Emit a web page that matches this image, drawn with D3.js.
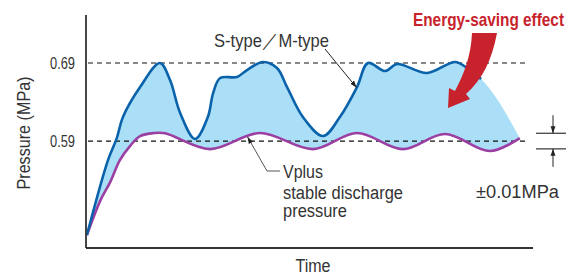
<!DOCTYPE html>
<html>
<head>
<meta charset="utf-8">
<script src="https://cdn.jsdelivr.net/npm/d3@7"></script>
<style>
  body { margin: 0; background: #fff; }
  svg { display: block; }
  text { font-family: "Liberation Sans", Arial, sans-serif; fill: #333; }
</style>
</head>
<body>
<div id="vis"></div>
<script>
// time is in arbitrary units (0..100), pressure in MPa
const yTicks = [0.59, 0.69]
const stypeTime     = [0.2, 5, 7, 8.4, 12.3, 16.8, 19.1, 21.4, 24.8, 27.7, 28.9, 30.5, 34.3, 36.6, 40.2, 43.4, 45.7, 49.3, 53.9, 57.7, 61.6, 64.1, 68, 70.7, 77.5, 83.9, 86.6, 89.8]
const stypePressure = [0.4695, 0.5656, 0.5938, 0.6208, 0.6592, 0.69, 0.6682, 0.6259, 0.5926, 0.6208, 0.6515, 0.6708, 0.6721, 0.681, 0.6913, 0.6836, 0.6592, 0.6208, 0.5964, 0.6208, 0.6592, 0.69, 0.6797, 0.6887, 0.6772, 0.6913, 0.6836, 0.6695]
// where the saving area keeps going after the blue line stops
const tailTime     = [93.6, 98.6]
const tailPressure = [0.6423, 0.5938]
const vplusTime     = [0.2, 3.2, 5.5, 7.7, 10, 12.3, 15.5, 18, 28.2, 39.5, 51.6, 61.6, 72, 81.6, 91.8, 98.6]
const vplusPressure = [0.4695, 0.5131, 0.5374, 0.5656, 0.5836, 0.5964, 0.6003, 0.6, 0.5797, 0.6003, 0.5797, 0.6003, 0.5797, 0.599, 0.5772, 0.5938]

const margin = {top: 15, right: 33, bottom: 28, left: 86}
const width = 566 - margin.left - margin.right
const height = 276 - margin.top - margin.bottom

const blue = "#0a62ab"
const lightBlue = "#aadff7"
const purple = "#9b40a2"
const red = "#c8232c"

// the original uses a condensed face, none is installed so squeeze a normal one
function squeeze(sel, w) {
    sel.attr("textLength", w).attr("lengthAdjust", "spacingAndGlyphs")
}

const svg = d3.select('#vis')
    .append('svg')
    .attr('width', width + margin.left + margin.right)
    .attr('height', height + margin.top + margin.bottom)

const defs = svg.append("defs")
defs.append("marker")
    .attr("id", "tip")
    .attr("viewBox", "0 0 10 10")
    .attr("refX", 10).attr("refY", 5)
    .attr("markerWidth", 7).attr("markerHeight", 7)
    .attr("markerUnits", "userSpaceOnUse")
    .attr("orient", "auto-start-reverse")
    .append("path")
    .attr("d", "M0,1.5 L10,5 L0,8.5 Z")
    .attr("fill", "#222")

const g = svg.append('g')
    .attr('transform', `translate(${margin.left},${margin.top})`)

const x = d3.scaleLinear().domain([0, 101.6]).range([0, width])
const y = d3.scaleLinear().domain([0.453, 0.7515]).range([height, 0])

const stype = stypeTime.map((t, i) => [t, stypePressure[i]])
const tail = tailTime.map((t, i) => [t, tailPressure[i]])
const vplus = vplusTime.map((t, i) => [t, vplusPressure[i]])

const line = d3.line()
    .x(d => x(d[0]))
    .y(d => y(d[1]))
    .curve(d3.curveCatmullRom.alpha(0.5))

// saving area: blue curve + tail on top, Vplus curve back underneath
const upperEdge = line(stype.concat(tail))
const lowerEdge = line(vplus.slice().reverse())
g.append("path")
    .attr("d", upperEdge + lowerEdge.replace(/^M/, "L") + "Z")
    .attr("fill", lightBlue)

// reference pressures
g.selectAll(".ref")
    .data(yTicks)
    .enter()
    .append("line")
    .attr("class", "ref")
    .attr("x1", 2)
    .attr("x2", x(100.5))
    .attr("y1", d => y(d))
    .attr("y2", d => y(d))
    .attr("stroke", "#111")
    .attr("stroke-width", 1.2)
    .attr("stroke-dasharray", "5,4")

g.append("path")
    .attr("d", line(vplus))
    .attr("fill", "none")
    .attr("stroke", purple)
    .attr("stroke-width", 2.6)

g.append("path")
    .attr("d", line(stype))
    .attr("fill", "none")
    .attr("stroke", blue)
    .attr("stroke-width", 2.6)

// axes
g.append("line")
    .attr("x1", 0).attr("x2", 0)
    .attr("y1", 0).attr("y2", height)
    .attr("stroke", "#333").attr("stroke-width", 1.8)
g.append("line")
    .attr("x1", 0).attr("x2", width)
    .attr("y1", height).attr("y2", height)
    .attr("stroke", "#333").attr("stroke-width", 1.8)

const yAxis = g.append("g")
    .call(d3.axisLeft(y).tickValues(yTicks).tickSize(0).tickPadding(11).tickFormat(d3.format(".2f")))
yAxis.select(".domain").remove()
yAxis.selectAll("text")
    .style("font-size", "16.5px")
    .attr("font-family", null)
    .attr("fill", "#333")
    .call(squeeze, 25)

g.append("text")
    .attr("transform", "rotate(-90)")
    .attr("x", -118)
    .attr("y", -56)
    .attr("text-anchor", "middle")
    .style("font-size", "19px")
    .text("Pressure (MPa)")
    .call(squeeze, 113)

g.append("text")
    .attr("x", 227)
    .attr("y", height + 24)
    .attr("text-anchor", "middle")
    .style("font-size", "18px")
    .text("Time")
    .call(squeeze, 35)

// S-type / M-type label
g.append("text")
    .attr("x", 128)
    .attr("y", 31.5)
    .style("font-size", "19px")
    .text("S-type／M-type")
    .call(squeeze, 115)
g.append("line")
    .attr("x1", 239).attr("y1", 34)
    .attr("x2", x(61.5)).attr("y2", y(0.6585))
    .attr("stroke", "#222").attr("stroke-width", 1)
    .attr("marker-end", "url(#tip)")

// Vplus label
g.append("polyline")
    .attr("points", `${x(36.7)},${y(0.5955)} 181,156 194,156`)
    .attr("fill", "none")
    .attr("stroke", "#555").attr("stroke-width", 1)
    .attr("marker-start", "url(#tip)")
const vLines = [["Vplus", 163, 40], ["stable discharge", 184, 120], ["pressure", 202, 64]]
g.selectAll(".vlabel")
    .data(vLines)
    .enter()
    .append("text")
    .attr("class", "vlabel")
    .attr("x", 197)
    .attr("y", d => d[1])
    .style("font-size", "18px")
    .text(d => d[0])
    .each(function(d) { d3.select(this).call(squeeze, d[2]) })

// energy saving arrow
svg.append("text")
    .attr("x", 413)
    .attr("y", 26)
    .style("font-size", "19px")
    .style("font-weight", "bold")
    .style("fill", red)
    .text("Energy-saving effect")
    .call(squeeze, 151)
svg.append("path")
    .attr("d", "M472,33 L497,33 C492,60 482,80 466,94 L470,99 L448,108 L449,88 L455,91 C464,74 471,56 472,33 Z")
    .attr("fill", red)

// +-0.01 MPa bracket
const band = [0.60, 0.58]
svg.selectAll(".band")
    .data(band)
    .enter()
    .append("line")
    .attr("class", "band")
    .attr("x1", 536).attr("x2", 566)
    .attr("y1", d => margin.top + y(d))
    .attr("y2", d => margin.top + y(d))
    .attr("stroke", "#333").attr("stroke-width", 1.2)
svg.append("line")
    .attr("x1", 553).attr("x2", 553)
    .attr("y1", margin.top + y(0.6) - 18).attr("y2", margin.top + y(0.6))
    .attr("stroke", "#222").attr("stroke-width", 1)
    .attr("marker-end", "url(#tip)")
svg.append("line")
    .attr("x1", 553).attr("x2", 553)
    .attr("y1", margin.top + y(0.58) + 18).attr("y2", margin.top + y(0.58))
    .attr("stroke", "#222").attr("stroke-width", 1)
    .attr("marker-end", "url(#tip)")
svg.append("text")
    .attr("x", 476)
    .attr("y", 198)
    .style("font-size", "18px")
    .text("±0.01MPa")
    .call(squeeze, 83)
</script>
</body>
</html>
